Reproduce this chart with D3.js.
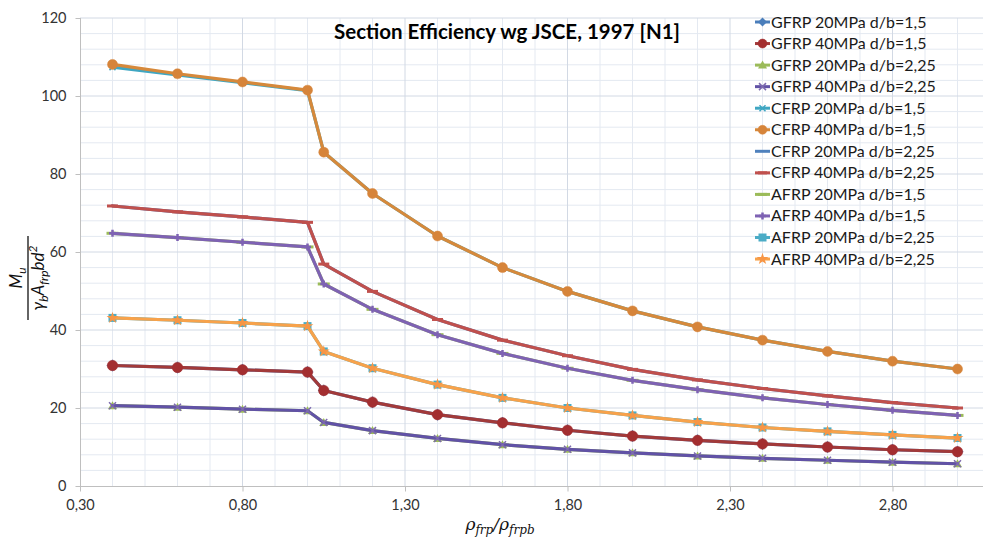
<!DOCTYPE html>
<html><head><meta charset="utf-8">
<script src="https://cdn.jsdelivr.net/npm/d3@7"></script>
<style>
html,body{margin:0;padding:0;background:#fff;}
svg{display:block;}
text{font-family:Lato,"Open Sans",sans-serif;}
</style></head>
<body>
<svg id="chart" width="983" height="540"></svg>
<script>
// ---- data ----
const xValues = [0.4,0.6,0.8,1.0,1.05,1.2,1.4,1.6,1.8,2.0,2.2,2.4,2.6,2.8,3.0];
const gfrp20_15  = [30.9,30.4,29.8,29.2,24.5,21.5,18.3,16.2,14.3,12.8,11.7,10.8,10.0,9.3,8.8];
const gfrp40_15  = [30.9,30.4,29.8,29.2,24.5,21.5,18.3,16.2,14.3,12.8,11.7,10.8,10.0,9.3,8.8];
const gfrp20_225 = [20.6,20.2,19.7,19.3,16.3,14.2,12.2,10.6,9.4,8.5,7.7,7.1,6.6,6.1,5.7];
const gfrp40_225 = [20.6,20.2,19.7,19.3,16.3,14.2,12.2,10.6,9.4,8.5,7.7,7.1,6.6,6.1,5.7];
const cfrp20_15  = [107.4,105.4,103.4,101.4,85.6,75.0,64.1,56.0,49.9,44.9,40.8,37.4,34.5,32.0,30.0];
const cfrp40_15  = [108.1,105.7,103.6,101.5,85.6,75.0,64.1,56.0,49.9,44.9,40.8,37.4,34.5,32.0,30.0];
const cfrp20_225 = [71.8,70.3,69.0,67.6,56.9,49.9,42.7,37.4,33.4,29.9,27.2,25.0,23.1,21.4,20.0];
const cfrp40_225 = [71.8,70.3,69.0,67.6,56.9,49.9,42.7,37.4,33.4,29.9,27.2,25.0,23.1,21.4,20.0];
const afrp20_15  = [64.8,63.7,62.5,61.3,51.8,45.3,38.8,34.0,30.2,27.1,24.7,22.6,20.9,19.4,18.1];
const afrp40_15  = [64.8,63.7,62.5,61.3,51.8,45.3,38.8,34.0,30.2,27.1,24.7,22.6,20.9,19.4,18.1];
const afrp20_225 = [43.1,42.5,41.8,41.0,34.5,30.2,26.0,22.6,20.0,18.1,16.4,15.0,14.0,13.1,12.3];
const afrp40_225 = [43.1,42.5,41.8,41.0,34.5,30.2,26.0,22.6,20.0,18.1,16.4,15.0,14.0,13.1,12.3];
const seriesNames = ["GFRP 20MPa d/b=1,5","GFRP 40MPa d/b=1,5","GFRP 20MPa d/b=2,25","GFRP 40MPa d/b=2,25",
  "CFRP 20MPa d/b=1,5","CFRP 40MPa d/b=1,5","CFRP 20MPa d/b=2,25","CFRP 40MPa d/b=2,25",
  "AFRP 20MPa d/b=1,5","AFRP 40MPa d/b=1,5","AFRP 20MPa d/b=2,25","AFRP 40MPa d/b=2,25"];
const seriesValues = [gfrp20_15,gfrp40_15,gfrp20_225,gfrp40_225,cfrp20_15,cfrp40_15,cfrp20_225,cfrp40_225,afrp20_15,afrp40_15,afrp20_225,afrp40_225];
const xTicks = [0.3,0.8,1.3,1.8,2.3,2.8];
const yTicks = [0,20,40,60,80,100,120];
const titleText = "Section Efficiency wg JSCE, 1997 [N1]";

// ---- styles ----
const styles = [
  {color:"#4A7EBB", marker:"diamond", mcolor:"#4A7EBB", ms:12},
  {color:"#A23A3A", marker:"circle", mcolor:"#A32E30", ms:10.5},
  {color:"#9BBB59", marker:"triangle", mcolor:"#9BBB59", ms:9},
  {color:"#6152A6", marker:"x", mcolor:"#7D6AAE", ms:7},
  {color:"#3FA6C2", marker:"x", mcolor:"#3FA6C2", ms:6},
  {color:"#D6893B", marker:"circle", mcolor:"#D6843A", ms:10},
  {color:"#4F81BD", marker:"none", mcolor:"#4F81BD", ms:0},
  {color:"#C0504D", marker:"dash", mcolor:"#C0504D", ms:11},
  {color:"#9BBB59", marker:"dash", mcolor:"#9BBB59", ms:12},
  {color:"#7E62B3", marker:"plus", mcolor:"#7E62B3", ms:7},
  {color:"#4BACC6", marker:"square", mcolor:"#4BACC6", ms:8},
  {color:"#F7A24B", marker:"star", mcolor:"#F79646", ms:7}
];

const svg = d3.select("#chart");
svg.append("rect").attr("width",983).attr("height",540).attr("fill","#fff");

const x = d3.scaleLinear().domain([0.3,3.1]).range([80,990]);
const y = d3.scaleLinear().domain([0,120]).range([486,18]);
const plotRight = 983;

// grid
const g = svg.append("g");
const minorY = d3.range(0,121,4).filter(v=>v%20!==0);
g.selectAll("line.minY").data(minorY).enter().append("line")
  .attr("x1",80).attr("x2",plotRight).attr("y1",d=>y(d)).attr("y2",d=>y(d))
  .attr("stroke","#E4E9F1").attr("stroke-width",1);
const minorX = d3.range(4,31).map(v=>v/10).filter(v=>Math.abs(((v-0.3)*10)%5)>0.01 && Math.abs(((v-0.3)*10)%5-5)>0.01);
g.selectAll("line.minX").data(minorX).enter().append("line")
  .attr("x1",d=>x(d)).attr("x2",d=>x(d)).attr("y1",18).attr("y2",486)
  .attr("stroke","#E4E9F1").attr("stroke-width",1);
g.selectAll("line.majY").data(yTicks.filter(v=>v>0)).enter().append("line")
  .attr("x1",80).attr("x2",plotRight).attr("y1",d=>y(d)).attr("y2",d=>y(d))
  .attr("stroke","#D2D9E4").attr("stroke-width",1);
g.selectAll("line.majX").data(xTicks.filter(v=>v>0.3)).enter().append("line")
  .attr("x1",d=>x(d)).attr("x2",d=>x(d)).attr("y1",18).attr("y2",486)
  .attr("stroke","#D2D9E4").attr("stroke-width",1);

// axes
const xAxis = d3.axisBottom(x).tickValues(xTicks).tickSize(5).tickPadding(8)
  .tickFormat(d=>d3.format(".2f")(d).replace(".",","));
const gx = svg.append("g").attr("transform","translate(0,486.5)").call(xAxis);
gx.select(".domain").attr("stroke","#BFBFBF").attr("d","M80,0H983");
gx.selectAll(".tick line").attr("stroke","#BFBFBF");
gx.selectAll(".tick text").attr("fill","#333").style("font-size","14.5px").style("font-family","Lato, sans-serif");

const yAxis = d3.axisLeft(y).tickValues(yTicks).tickSize(5).tickPadding(9);
const gy = svg.append("g").attr("transform","translate(80.5,0)").call(yAxis);
gy.select(".domain").attr("stroke","#BFBFBF").attr("d","M0,18V486");
gy.selectAll(".tick line").attr("stroke","#BFBFBF");
gy.selectAll(".tick text").attr("fill","#333").style("font-size","14.5px").style("font-family","Lato, sans-serif");

// marker drawing
function drawMarker(sel, st){
  const s = st.ms;
  if(st.marker==="circle"){
    sel.append("circle").attr("r",s/2).attr("fill",st.mcolor).attr("stroke",st.mcolor).attr("stroke-width",0.5);
  } else if(st.marker==="diamond"){
    sel.append("path").attr("d",`M0,${-s/2}L${s/2},0L0,${s/2}L${-s/2},0Z`).attr("fill",st.mcolor);
  } else if(st.marker==="triangle"){
    sel.append("path").attr("d",`M0,${-s/2}L${s/2},${s/2-1}L${-s/2},${s/2-1}Z`).attr("fill",st.mcolor);
  } else if(st.marker==="square"){
    sel.append("rect").attr("x",-s/2).attr("y",-s/2).attr("width",s).attr("height",s).attr("fill",st.mcolor);
  } else if(st.marker==="dash"){
    sel.append("line").attr("x1",-s/2).attr("x2",s/2).attr("stroke",st.mcolor).attr("stroke-width",3);
  } else if(st.marker==="x"){
    sel.append("path").attr("d",`M${-s/2},${-s/2}L${s/2},${s/2}M${-s/2},${s/2}L${s/2},${-s/2}`).attr("stroke",st.mcolor).attr("stroke-width",1.5);
  } else if(st.marker==="plus"){
    sel.append("path").attr("d",`M${-s/2},0L${s/2},0M0,${-s/2}L0,${s/2}`).attr("stroke",st.mcolor).attr("stroke-width",2.5);
  } else if(st.marker==="star"){
    sel.append("path").attr("d",d3.symbol(d3.symbolStar, s*s*0.9)()).attr("fill",st.mcolor);
  }
}

// series
const line = d3.line().x(d=>x(d[0])).y(d=>y(d[1]));
seriesValues.forEach((vals,i)=>{
  const st = styles[i];
  const pts = xValues.map((xv,j)=>[xv, vals[j]]);
  const sg = svg.append("g");
  sg.append("path").datum(pts).attr("d",line).attr("fill","none")
    .attr("stroke",st.color).attr("stroke-width",3.2).attr("stroke-linejoin","round").attr("stroke-linecap","round");
  if(st.marker!=="none"){
    pts.forEach(p=>{
      const mg = sg.append("g").attr("transform",`translate(${x(p[0])},${y(p[1])})`);
      drawMarker(mg, st);
    });
  }
});

// title
svg.append("text").attr("x",507).attr("y",39).attr("text-anchor","middle")
  .style("font-size","20.5px").style("font-weight","bold").attr("fill","#000").text(titleText);

// legend
const lg = svg.append("g");
seriesNames.forEach((name,i)=>{
  const st = styles[i];
  const yy = 22 + i*21.55;
  const row = lg.append("g").attr("transform",`translate(0,${yy})`);
  row.append("line").attr("x1",755).attr("x2",770).attr("stroke",st.color).attr("stroke-width",3);
  if(st.marker!=="none"){
    const mg = row.append("g").attr("transform","translate(762.5,0)");
    drawMarker(mg, Object.assign({}, st, {ms: Math.min(st.ms, 9)}));
  }
  row.append("text").attr("x",771).attr("y",5.5).style("font-size","16px").attr("fill","#1a1a1a").text(name);
});

// y axis title (fraction)
const yt = svg.append("g").attr("transform","translate(28,278) rotate(-90)")
  .style("font-family","'DejaVu Serif', 'Liberation Serif', serif").style("font-style","italic").attr("fill","#111");
const num = yt.append("text").attr("x",0).attr("y",-6).attr("text-anchor","middle").style("font-size","17px");
num.append("tspan").text("M");
num.append("tspan").attr("dy",4).style("font-size","12px").text("u");
yt.append("line").attr("x1",-42).attr("x2",42).attr("y1",0).attr("y2",0).attr("stroke","#111").attr("stroke-width",1.3);
const den = yt.append("text").attr("x",0).attr("y",16).attr("text-anchor","middle").style("font-size","17px");
den.append("tspan").text("γ");
den.append("tspan").attr("dy",4).style("font-size","12px").text("b");
den.append("tspan").attr("dy",-4).text("A");
den.append("tspan").attr("dy",4).style("font-size","12px").text("frp");
den.append("tspan").attr("dy",-4).text("bd");
den.append("tspan").attr("dy",-7).style("font-size","12px").text("2");

// x axis title
const xt = svg.append("text").attr("x",500).attr("y",530).attr("text-anchor","middle")
  .style("font-family","'DejaVu Serif', 'Liberation Serif', serif").style("font-style","italic").style("font-size","17px").attr("fill","#111");
xt.append("tspan").text("ρ");
xt.append("tspan").attr("dy",4).style("font-size","12px").text("frp");
xt.append("tspan").attr("dy",-4).text("/ρ");
xt.append("tspan").attr("dy",4).style("font-size","12px").text("frpb");
</script>
</body></html>
